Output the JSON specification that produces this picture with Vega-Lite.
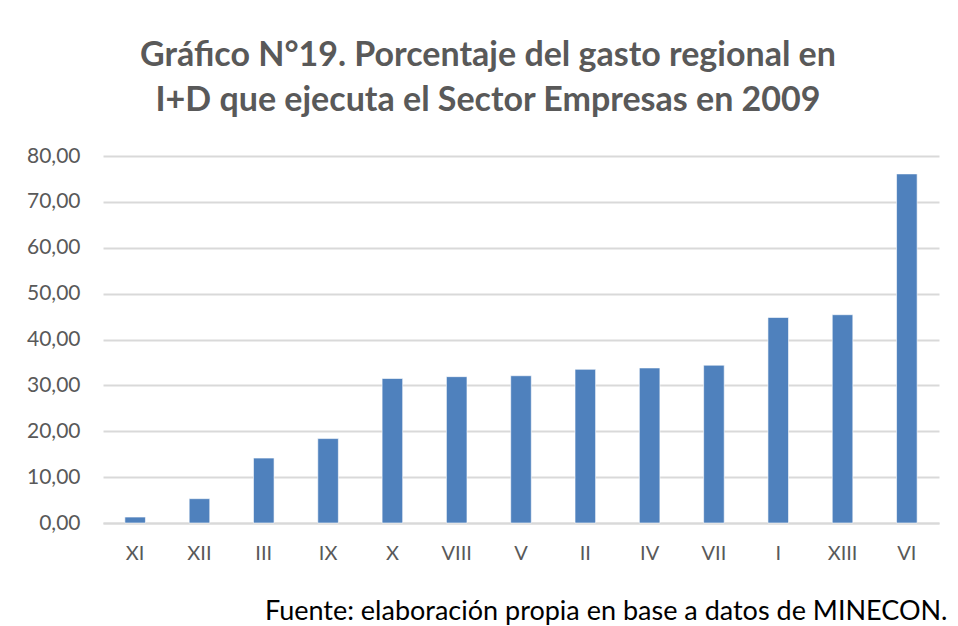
{
  "$schema": "https://vega.github.io/schema/vega-lite/v6.json",
  "autosize": "none",
  "width": 836,
  "height": 367,
  "padding": {"left": 103, "top": 156, "right": 19, "bottom": 103},
  "background": "white",
  "title": {
    "text": ["Gráfico N°19. Porcentaje del gasto regional en", "I+D que ejecuta el Sector Empresas en 2009"],
    "font": "Lato",
    "fontSize": 34,
    "fontWeight": "bold",
    "color": "#595959",
    "anchor": "middle",
    "dx": -33,
    "lineHeight": 45,
    "offset": 27
  },
  "data": {
    "values": [
      {"region": "XI", "pct": 1.3},
      {"region": "XII", "pct": 5.3},
      {"region": "III", "pct": 14.15},
      {"region": "IX", "pct": 18.4},
      {"region": "X", "pct": 31.5},
      {"region": "VIII", "pct": 31.9},
      {"region": "V", "pct": 32.1},
      {"region": "II", "pct": 33.5},
      {"region": "IV", "pct": 33.8},
      {"region": "VII", "pct": 34.4},
      {"region": "I", "pct": 44.8},
      {"region": "XIII", "pct": 45.4},
      {"region": "VI", "pct": 76.1}
    ]
  },
  "mark": {"type": "bar", "color": "#4f81bd", "stroke": "#ffffff", "strokeWidth": 0.6},
  "encoding": {
    "x": {
      "field": "region",
      "type": "nominal",
      "sort": null,
      "scale": {"paddingInner": 0.68, "paddingOuter": 0.34},
      "axis": {
        "title": "Fuente: elaboración propia en base a datos de MINECON.",
        "titleFont": "Lato",
        "titleFontSize": 27,
        "titleFontWeight": "normal",
        "titleColor": "#000000",
        "titleAlign": "right",
        "titleBaseline": "alphabetic",
        "titleX": 844,
        "titleY": 96,
        "labelFont": "Lato",
        "labelFontSize": 20,
        "labelColor": "#595959",
        "labelAngle": 0,
        "labelPadding": 20,
        "ticks": false,
        "domain": true,
        "domainColor": "#d9d9d9",
        "domainWidth": 2,
        "grid": false
      }
    },
    "y": {
      "field": "pct",
      "type": "quantitative",
      "scale": {"domain": [0, 80], "nice": false},
      "axis": {
        "title": null,
        "values": [0, 10, 20, 30, 40, 50, 60, 70, 80],
        "labelExpr": "replace(format(datum.value, '.2f'), '.', ',')",
        "labelFont": "Lato",
        "labelFontSize": 21,
        "labelColor": "#595959",
        "labelPadding": 23,
        "ticks": false,
        "domain": false,
        "grid": true,
        "gridColor": "#d9d9d9",
        "gridWidth": 2
      }
    }
  },
  "config": {
    "view": {"stroke": null}
  }
}
